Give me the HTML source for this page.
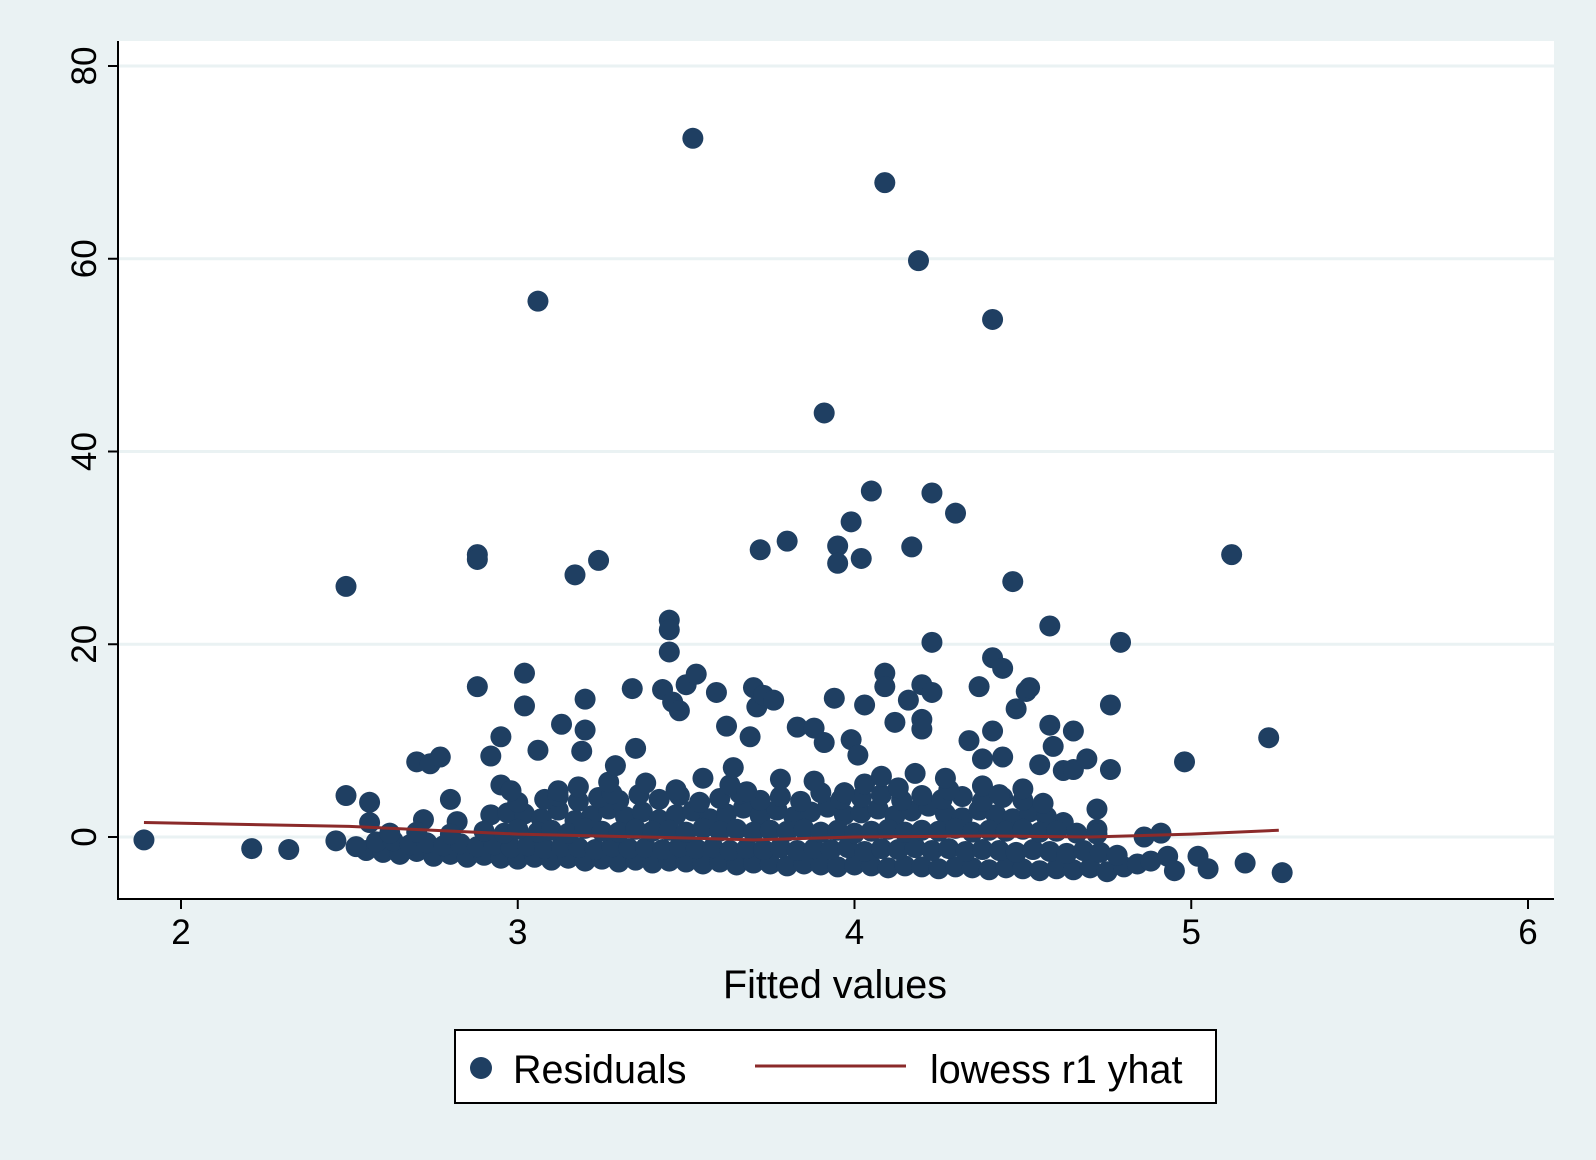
<!DOCTYPE html>
<html><head><meta charset="utf-8"><style>
html,body{margin:0;padding:0;background:#eaf2f3;}
svg{display:block;font-family:"Liberation Sans",Arial,sans-serif;}
</style></head><body>
<svg id="chart" width="1596" height="1160" viewBox="0 0 1596 1160">
<rect x="0" y="0" width="1596" height="1160" fill="#eaf2f3"/>
<rect x="118" y="41" width="1436" height="858" fill="#ffffff"/>
<g id="grid"></g><g id="marks"></g><g id="axes"></g>
<g>
<rect x="455" y="1030" width="761" height="73" fill="#fff" stroke="#000" stroke-width="2"/>
<circle cx="481" cy="1068" r="11" fill="#1f3f62"/>
<text x="513" y="1083" font-size="39.5">Residuals</text>
<line x1="755" y1="1066" x2="906" y2="1066" stroke="#8b2a2a" stroke-width="3"/>
<text x="930" y="1083" font-size="39.5">lowess r1 yhat</text>
</g>
<text x="835" y="998" font-size="39.5" text-anchor="middle">Fitted values</text>
</svg>
<script>
const xTicks=[2,3,4,5,6];
const yTicks=[0,20,40,60,80];
const outX=[1.89,2.21,2.32,2.46,2.49,2.49,2.52,2.56,2.56,2.70,2.74,2.77,2.80,2.88,2.88,2.88,2.92,2.95,2.95,2.98,3.02,3.02,3.06,3.06,3.13,3.17,3.19,3.20,3.20,3.24,3.27,3.29,3.34,3.35,3.43,3.45,3.45,3.45,3.46,3.48,3.50,3.52,3.53,3.59,3.62,3.64,3.69,3.70,3.71,3.72,3.73,3.76,3.80,3.83,3.88,3.91,3.91,3.94,3.95,3.95,3.99,3.99,4.01,4.02,4.03,4.05,4.09,4.09,4.09,4.12,4.16,4.17,4.19,4.20,4.20,4.20,4.23,4.23,4.23,4.27,4.30,4.34,4.37,4.38,4.41,4.41,4.41,4.44,4.44,4.47,4.48,4.51,4.52,4.55,4.58,4.58,4.59,4.62,4.65,4.65,4.69,4.72,4.76,4.76,4.79,4.86,4.91,4.93,4.95,4.98,5.02,5.05,5.12,5.16,5.23,5.27];
const outY=[-0.3,-1.2,-1.3,-0.4,26,4.3,-1,3.6,1.5,7.8,7.6,8.3,3.9,29.3,28.8,15.6,8.4,10.4,5.4,4.8,17,13.6,55.6,9,11.7,27.2,8.9,14.3,11.1,28.7,5.7,7.4,15.4,9.2,15.3,22.5,21.5,19.2,14,13.1,15.8,72.5,16.9,15,11.5,7.2,10.4,15.5,13.5,29.8,14.7,14.2,30.7,11.4,11.3,44,9.8,14.4,30.2,28.4,32.7,10.1,8.5,28.9,13.7,35.9,67.9,17,15.6,11.9,14.2,30.1,59.8,15.8,12.2,11.2,35.7,20.2,15,6.1,33.6,10,15.6,8.1,53.7,18.6,11,17.5,8.3,26.5,13.3,15.1,15.5,7.5,21.9,11.6,9.4,6.9,7,11,8.1,2.9,13.7,7,20.2,0,0.4,-2,-3.5,7.8,-2,-3.3,29.3,-2.7,10.3,-3.7];
const bandX=[2.55,2.6,2.65,2.7,2.75,2.8,2.85,2.9,2.95,3.0,3.05,3.1,3.15,3.2,3.25,3.3,3.35,3.4,3.45,3.5,3.55,3.6,3.65,3.7,3.75,3.8,3.85,3.9,3.95,4.0,4.05,4.1,4.15,4.2,4.25,4.3,4.35,4.4,4.45,4.5,4.55,4.6,4.65,4.7,4.75,4.8,4.84,4.88,
2.58,2.63,2.68,2.73,2.78,2.83,2.88,2.93,2.98,3.03,3.08,3.13,3.18,3.23,3.28,3.33,3.38,3.43,3.48,3.53,3.58,3.63,3.68,3.73,3.78,3.83,3.88,3.93,3.98,4.03,4.08,4.13,4.18,4.23,4.28,4.33,4.38,4.43,4.48,4.53,4.58,4.63,4.68,4.73,4.78,
2.62,2.72,2.82,2.92,2.97,3.02,3.07,3.12,3.17,3.22,3.27,3.32,3.37,3.42,3.47,3.52,3.57,3.62,3.67,3.72,3.77,3.82,3.87,3.92,3.97,4.02,4.07,4.12,4.17,4.22,4.27,4.32,4.37,4.42,4.47,4.52,4.57,4.62,4.72,
2.7,2.8,2.9,2.96,3.0,3.06,3.1,3.15,3.2,3.25,3.3,3.35,3.4,3.45,3.5,3.55,3.6,3.65,3.7,3.75,3.8,3.85,3.9,3.95,4.0,4.05,4.1,4.15,4.2,4.25,4.3,4.35,4.4,4.45,4.5,4.55,4.6,4.66,4.72,
3.0,3.08,3.12,3.18,3.24,3.3,3.36,3.42,3.48,3.54,3.6,3.66,3.72,3.78,3.84,3.9,3.96,4.02,4.08,4.14,4.2,4.26,4.32,4.38,4.44,4.5,4.56,
3.12,3.18,3.28,3.38,3.47,3.55,3.63,3.68,3.78,3.88,3.97,4.03,4.08,4.13,4.18,4.28,4.38,4.43,4.5];
const bandY=[-1.4,-1.6,-1.8,-1.5,-2,-1.8,-2.1,-1.9,-2.2,-2.3,-2.1,-2.4,-2.2,-2.5,-2.3,-2.6,-2.4,-2.7,-2.5,-2.6,-2.8,-2.6,-2.9,-2.7,-2.8,-3,-2.8,-2.9,-3.1,-2.9,-3,-3.2,-3,-3.1,-3.3,-3.1,-3.2,-3.4,-3.2,-3.3,-3.5,-3.3,-3.4,-3.2,-3.6,-3.1,-2.8,-2.5,
-0.5,-0.4,-0.8,-0.6,-0.9,-0.7,-1,-0.8,-1.1,-0.9,-1.2,-1,-1.1,-1.3,-1,-1.2,-1.1,-1.3,-1,-1.2,-1.1,-1.4,-1.2,-1.3,-1.1,-1.4,-1.2,-1.3,-1.1,-1.5,-1.2,-1.3,-1.1,-1.4,-1.2,-1.5,-1.3,-1.4,-1.6,-1.3,-1.5,-1.7,-1.4,-1.6,-1.9,
0.4,1.8,1.6,2.3,2.5,2.4,1.9,2.8,1.7,2.2,2.9,2.1,2.6,1.8,2.3,2.7,1.9,2.4,3,2.2,2.8,2.1,2.6,3.1,2.3,2.5,2.9,2.2,2.7,3.2,2.4,2,2.8,2.3,1.9,2.6,2.1,1.5,0.8,
0.5,0.3,0.6,0.4,0.8,0.5,0.7,0.4,0.9,0.6,0.5,0.8,0.6,0.7,0.5,0.9,0.6,0.8,0.5,0.7,0.6,0.8,0.5,0.7,0.4,0.6,0.8,0.5,0.7,0.6,0.9,0.5,0.7,0.6,0.8,0.5,0.6,0.4,0.3,
3.6,3.9,4.2,3.7,4.1,3.8,4.4,3.9,4.3,3.6,4,4.5,3.8,4.2,3.7,4.6,3.9,4.1,4.4,3.8,4.3,3.9,4.2,3.7,4.1,3.8,3.5,
4.8,5.2,4.5,5.6,4.9,6.1,5.4,4.7,6,5.8,4.6,5.5,6.3,5.1,6.6,4.9,5.3,4.4,5];
const lowX=[1.89,2.5,3.0,3.5,3.7,4.0,4.4,4.7,5.0,5.26];
const lowY=[1.5,1.1,0.3,-0.1,-0.3,0,0.1,0,0.3,0.7];
const X0=118,X1=1554,Y0=41,Y1=899;
function sx(v){return 181+(v-2)*(1528-181)/4;}
function sy(v){return 837+(v)*(66-837)/80;}
const NS="http://www.w3.org/2000/svg";
function mk(t,a,p){const e=document.createElementNS(NS,t);for(const k in a)e.setAttribute(k,a[k]);p.appendChild(e);return e;}
const grid=document.getElementById('grid'),marks=document.getElementById('marks'),axes=document.getElementById('axes');
yTicks.forEach(t=>{
 const g=mk('line',{x1:X0,x2:X1,y1:sy(t),y2:sy(t),stroke:'#eaf2f3','stroke-width':3},grid);
 
 
 const tk=mk('line',{x1:X0-10,x2:X0,y1:sy(t),y2:sy(t),stroke:'#000','stroke-width':2},axes);
 
 
 const y=sy(t);
 const tx=mk('text',{x:X0-22,y:y,'font-size':35,'text-anchor':'middle',transform:`rotate(-90 ${X0-22} ${y})`},axes);
 tx.textContent=t;
 
 
});
xTicks.forEach(t=>{
 const tk=mk('line',{x1:sx(t),x2:sx(t),y1:Y1,y2:Y1+10,stroke:'#000','stroke-width':2},axes);
 
 
 const tx=mk('text',{x:sx(t),y:Y1+45,'font-size':35,'text-anchor':'middle'},axes);
 tx.textContent=t;
 
 
});
const ax=mk('path',{d:`M${X0} ${Y0} V${Y1} H${X1}`,fill:'none',stroke:'#000','stroke-width':2},axes);


function drawPts(xs,ys){
 for(let i=0;i<xs.length;i++){
  const c=mk('circle',{cx:sx(xs[i]),cy:sy(ys[i]),r:10.5,fill:'#1f3f62'},marks);
  
  
 }
}
drawPts(bandX,bandY);
drawPts(outX,outY);
const p=mk('polyline',{points:lowX.map((x,i)=>sx(x)+','+sy(lowY[i])).join(' '),fill:'none',stroke:'#8b2a2a','stroke-width':3},marks);


</script>
</body></html>
